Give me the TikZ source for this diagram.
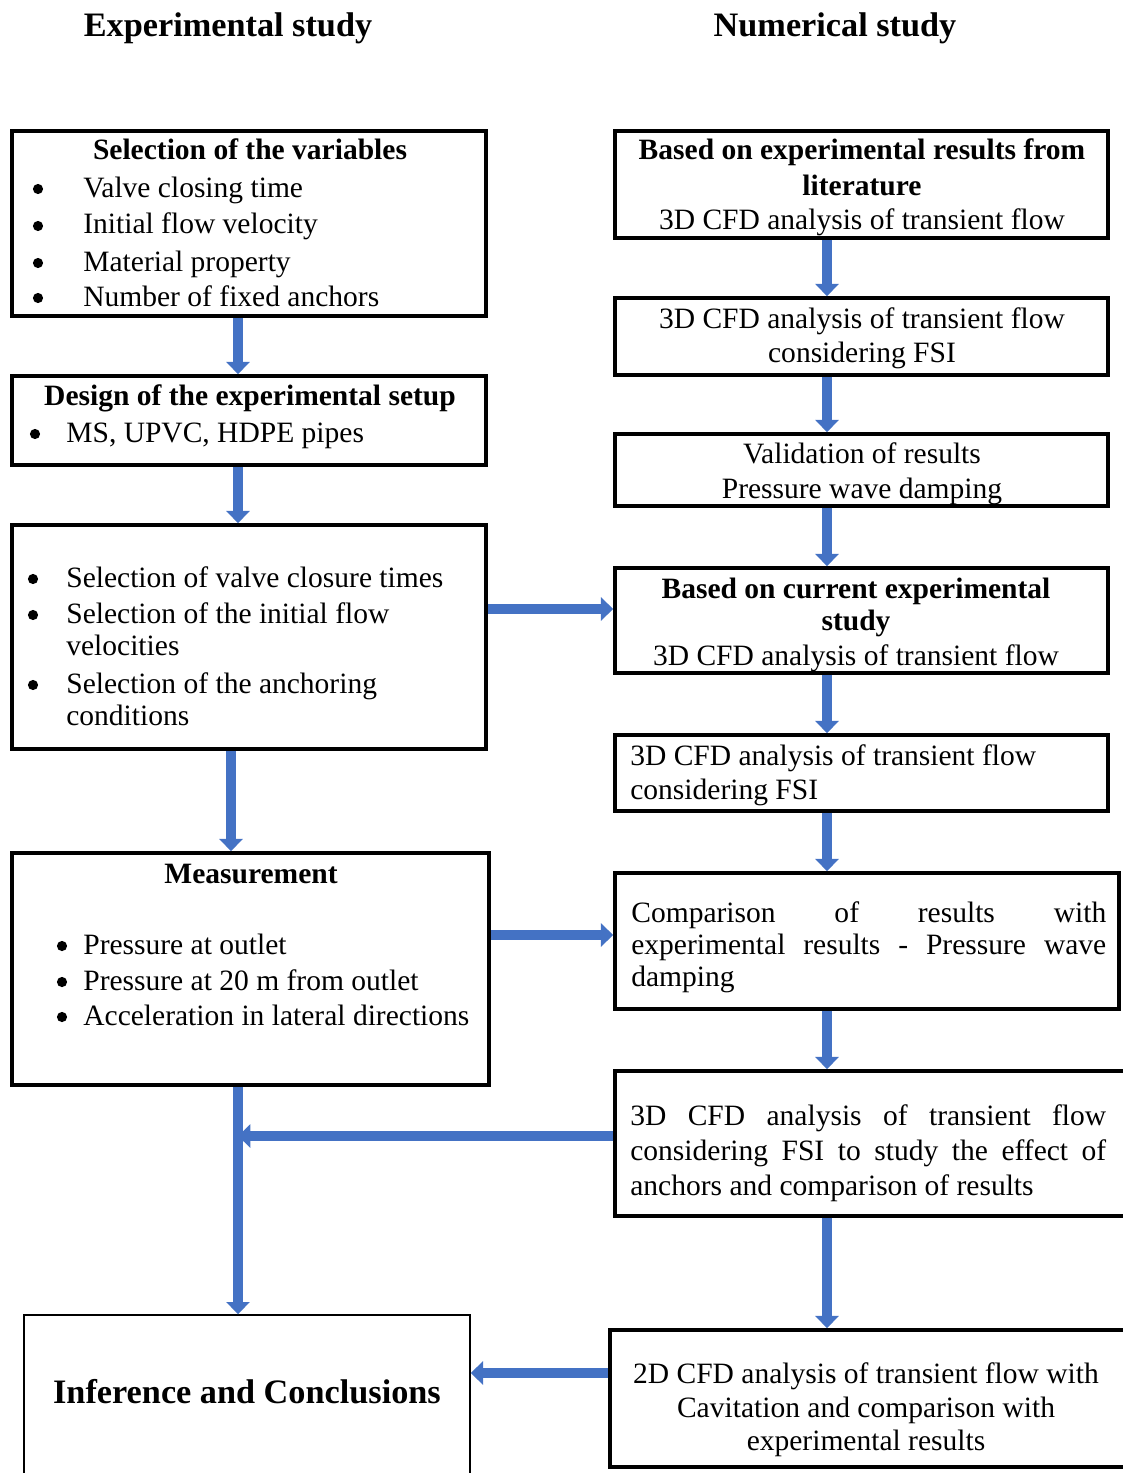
\documentclass[tikz,border=0pt]{standalone}
\usepackage{fontspec}
\setmainfont{Liberation Serif}
\usetikzlibrary{arrows.meta,positioning,fit}
\definecolor{flowblue}{RGB}{68,114,196}

\begin{document}
\begin{tikzpicture}[x=0.02cm, y=-0.02cm,
    box/.style={draw, line width=2pt, inner sep=0pt},
    txt/.style={inner sep=0pt, anchor=base, font=\fontsize{16.8}{21}\selectfont},
    lft/.style={txt, anchor=base west},
    hd/.style={txt, font=\fontsize{16.8}{21}\selectfont\bfseries},
    ttl/.style={inner sep=0pt, anchor=base, font=\fontsize{19.5}{24}\selectfont\bfseries},
    flow/.style={flowblue, line width=5.7pt, -{Triangle[width=13pt,length=7pt]}}]
  \useasboundingbox (0,0) rectangle (1122,1473);

  \node[ttl] (exptitle) at (228,37) {Experimental study};
  \node[ttl] (numtitle) at (835,37) {Numerical study};

  % experimental column
  \node[box, fit={(12,131) (486,316)}] (vars) {};
  \node[hd] (varshd) at (250,160) {Selection of the variables};
  \foreach \y/\t in {197/Valve closing time, 234/Initial flow velocity,
                     271/Material property, 306/Number of fixed anchors} {
    \fill (38,\y-8) circle (2.9pt);
    \node[lft] at (83,\y) {\t};
  }

  \node[box, fit={(12,376) (486,465)}] (setup) {};
  \node[hd] (setuphd) at (250,405) {Design of the experimental setup};
  \fill (35,434) circle (2.9pt);
  \node[lft] at (66,442) {MS, UPVC, HDPE pipes};

  \node[box, fit={(12,525) (486,749)}] (choice) {};
  \foreach \y in {587,623,693} \fill (33,\y-8) circle (2.9pt);
  \node[lft] at (66,587) {Selection of valve closure times};
  \node[lft] at (66,623) {Selection of the initial flow};
  \node[lft] at (66,655) {velocities};
  \node[lft] at (66,693) {Selection of the anchoring};
  \node[lft] at (66,725) {conditions};

  \node[box, fit={(12,853) (489,1085)}] (meas) {};
  \node[hd] (meashd) at (251,883) {Measurement};
  \foreach \y/\t in {954/Pressure at outlet, 990/Pressure at 20 m from outlet,
                     1025/Acceleration in lateral directions} {
    \fill (62,\y-8) circle (2.9pt);
    \node[lft] at (83,\y) {\t};
  }

  \node[box, line width=0.8pt, fit={(24,1315) (470,1490)}] (concl) {};
  \node[ttl] at (247,1403) {Inference and Conclusions};

  % numerical column
  \node[box, fit={(615,131) (1108,238)}] (lit) {};
  \node[hd] at (862,160) {Based on experimental results from};
  \node[hd] at (862,195) {literature};
  \node[txt] at (862,230) {3D CFD analysis of transient flow};

  \node[box, fit={(615,298) (1108,375)}] (fsia) {};
  \node[txt] at (862,328) {3D CFD analysis of transient flow};
  \node[txt] at (862,362) {considering FSI};

  \node[box, fit={(615,434) (1108,506)}] (valid) {};
  \node[txt] at (862,463) {Validation of results};
  \node[txt] at (862,498) {Pressure wave damping};

  \node[box, fit={(615,568) (1108,673)}] (cur) {};
  \node[hd] at (856,598) {Based on current experimental};
  \node[hd] at (856,630) {study};
  \node[txt] at (856,665) {3D CFD analysis of transient flow};

  \node[box, fit={(615,735) (1108,811)}] (fsib) {};
  \node[lft] at (630,765) {3D CFD analysis of transient flow};
  \node[lft] at (630,799) {considering FSI};

  \node[box, fit={(615,873) (1119,1009)}] (comp) {};
  \node[lft] at (631,922) {\makebox[9.5cm][s]{Comparison of results with}};
  \node[lft] at (631,954) {\makebox[9.5cm][s]{experimental results - Pressure wave}};
  \node[lft] at (631,986) {damping};

  \node[box, fit={(615,1071) (1130,1216)}] (anch) {};
  \node[lft] at (630,1125) {\makebox[9.52cm][s]{3D CFD analysis of transient flow}};
  \node[lft] at (630,1160) {\makebox[9.52cm][s]{considering FSI to study the effect of}};
  \node[lft] at (630,1195) {anchors and comparison of results};

  \node[box, fit={(610,1330) (1130,1467)}] (cav) {};
  \node[txt] at (866,1383) {2D CFD analysis of transient flow with};
  \node[txt] at (866,1417) {Cavitation and comparison with};
  \node[txt] at (866,1450) {experimental results};

  % arrows
  \coordinate (expcol) at (238,0);
  \coordinate (expcolb) at (231,0);
  \coordinate (numcol) at (827,0);
  \coordinate (rowa) at (0,609);
  \coordinate (rowb) at (0,935);
  \coordinate (rowc) at (0,1136);
  \coordinate (rowd) at (0,1373);

  \draw[flow] (expcol |- vars.south) -- (expcol |- setup.north);
  \draw[flow] (expcol |- setup.south) -- (expcol |- choice.north);
  \draw[flow] (expcolb |- choice.south) -- (expcolb |- meas.north);
  \draw[flow] (expcol |- meas.south) -- (expcol |- concl.north);
  \draw[flow] (rowa -| choice.east) -- (rowa -| cur.west);
  \draw[flow] (rowb -| meas.east) -- (rowb -| comp.west);
  \draw[flow] (rowc -| anch.west) -- (rowc -| expcol);
  \draw[flow] (rowd -| cav.west) -- (rowd -| concl.east);

  \foreach \a/\b in {lit/fsia, fsia/valid, valid/cur, cur/fsib, fsib/comp, comp/anch, anch/cav}
    \draw[flow] (numcol |- \a.south) -- (numcol |- \b.north);
\end{tikzpicture}
\end{document}
